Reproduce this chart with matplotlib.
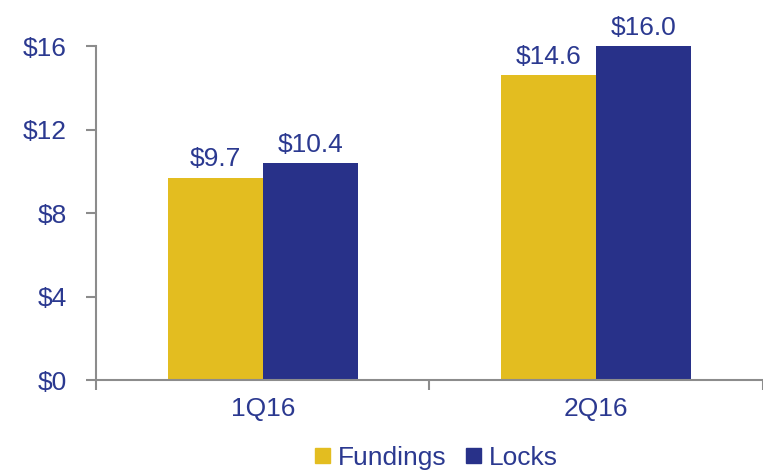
import matplotlib.pyplot as plt
from matplotlib.patches import Patch

quarters = ["1Q16", "2Q16"]
fundings = [9.7, 14.6]
locks = [10.4, 16.0]
y_ticks = [0, 4, 8, 12, 16]

gold = "#E3BD20"
navy = "#283189"
text_color = "#2B3990"
grey = "#8C8C8C"
fs = 19

plt.rcParams['font.family'] = ['Liberation Sans', 'DejaVu Sans']

fig = plt.figure(figsize=(7.63, 4.72), dpi=100)
ax = fig.add_axes([0.1258, 0.1949, 0.874, 0.7076])

x = list(range(len(quarters)))
w = 0.285
b1 = ax.bar([i - w / 2 for i in x], fundings, w, color=gold, label="Fundings")
b2 = ax.bar([i + w / 2 for i in x], locks, w, color=navy, label="Locks")

for bars, vals in [(b1, fundings), (b2, locks)]:
    for bar, v in zip(bars, vals):
        ax.text(bar.get_x() + bar.get_width() / 2, v + 0.3, "${:.1f}".format(v),
                ha="center", va="bottom", fontsize=fs, color=text_color)

ax.set_xlim(-0.5, 1.5)
ax.set_ylim(0, 16)
ax.set_yticks(y_ticks)
ax.set_yticklabels(["${}".format(t) for t in y_ticks])
ax.set_xticks([-0.5, 0.5, 1.5])
ax.set_xticklabels([])
ax.set_xticks(x, minor=True)
ax.set_xticklabels(quarters, minor=True)
ax.tick_params(axis="x", which="minor", length=0, pad=12, labelsize=fs, labelcolor=text_color)
ax.tick_params(axis="x", which="major", length=7, width=1.5, color=grey)
ax.tick_params(axis="y", length=7, width=1.5, color=grey, pad=14, labelsize=fs, labelcolor=text_color)

for s in ["top", "right"]:
    ax.spines[s].set_visible(False)
for s in ["left", "bottom"]:
    ax.spines[s].set_color(grey)
    ax.spines[s].set_linewidth(1.5)

handles = [Patch(color=gold, label="Fundings"), Patch(color=navy, label="Locks")]
fig.legend(handles=handles, loc="center", bbox_to_anchor=(0.572, 0.03), ncol=2, frameon=False,
           fontsize=fs, labelcolor=text_color, handlelength=0.55, handleheight=0.55,
           handletextpad=0.3, columnspacing=0.75)

fig.savefig("out.png", dpi=100)
